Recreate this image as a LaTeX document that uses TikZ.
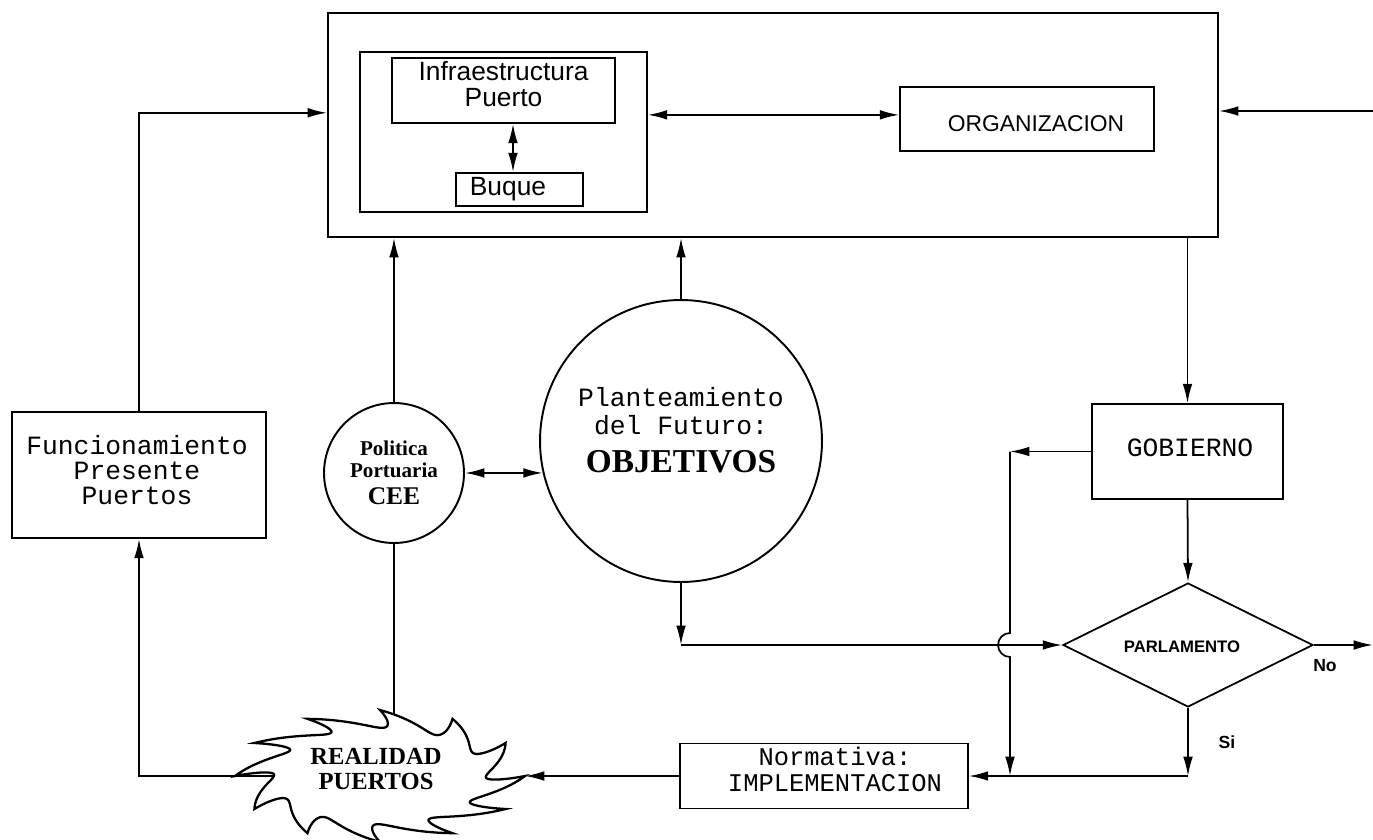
\documentclass[tikz,border=0pt]{standalone}
\usepackage{fontspec}
\setmainfont{Liberation Serif}
\newfontfamily\cadmono{Liberation Mono}
\newfontfamily\cadsans{Liberation Sans}
\usetikzlibrary{arrows.meta,shapes.geometric,calc}
\begin{document}
\begin{tikzpicture}[x=0.02cm,y=-0.02cm,line width=1pt,
  box/.style={draw,rectangle,inner sep=0pt,line width=1.2pt},
  circ/.style={draw,circle,inner sep=0pt,line width=1.1pt},
  tipa/.tip={Latex[length=11pt,width=5.5pt]},
  arr/.style={-tipa},
  darr/.style={tipa-tipa},
  mono/.style={font=\cadmono\fontsize{15}{14.2}\selectfont,align=center},
  sans/.style={font=\cadsans\fontsize{15}{14.8}\selectfont,align=center},
  boldsans/.style={font=\cadsans\bfseries\fontsize{9.5}{11}\selectfont},
  heavy/.style={font=\bfseries\fontsize{14}{14.2}\selectfont,align=center}]
\useasboundingbox (0,0) rectangle (1373,839);
\fill[white] (0,0) rectangle (1373,839);

% ---- boxes
\node[box,minimum width=17.8cm,minimum height=4.48cm] (big) at (773,125) {};
\node[box,line width=1pt,minimum width=5.74cm,minimum height=3.2cm] (inner) at (503.5,132) {};
\node[box,line width=1pt,minimum width=4.46cm,minimum height=1.3cm] (infra) at (503.5,90.5) {};
\node[sans] (infrat) at (503.5,84) {Infraestructura\\Puerto};
\node[box,line width=1pt,minimum width=2.54cm,minimum height=0.66cm] (buque) at (519.5,189.5) {};
\node[sans] (buquet) at (508,189) {Buque};
\node[box,line width=1pt,minimum width=5.08cm,minimum height=1.28cm] (org) at (1027,119) {};
\node[font=\cadsans\fontsize{13}{13}\selectfont] (orgt) at (1036,124) {ORGANIZACION};

\node[box,line width=1pt,minimum width=3.82cm,minimum height=1.9cm] (gob) at (1187.5,451.5) {};
\node[mono] (gobt) at (1190,448) {GOBIERNO};

\node[draw,diamond,inner sep=0pt,line width=1pt,minimum width=5cm,minimum height=2.48cm] (parl) at (1188,645) {};
\node[boldsans] (parlt) at (1182,647) {PARLAMENTO};
\node[font=\cadsans\bfseries\fontsize{10}{11}\selectfont] (no) at (1325,666) {No};
\node[font=\cadsans\bfseries\fontsize{10}{11}\selectfont] (si) at (1227,742) {Si};

\node[box,line width=1pt,minimum width=5.76cm,minimum height=1.3cm] (norm) at (824,776) {};
\node[font=\cadmono\fontsize{14.5}{15}\selectfont,inner sep=0pt] (normt1) at (835,756) {Normativa:};
\node[font=\cadmono\fontsize{14.5}{15}\selectfont,inner sep=0pt] (normt2) at (835,783) {IMPLEMENTACION};

\node[box,line width=1pt,minimum width=5.08cm,minimum height=2.52cm] (func) at (139,475) {};
\node[mono] (funct) at (137,470) {Funcionamiento\\Presente\\Puertos};

% ---- circles
\node[circ,minimum size=2.8cm] (pol) at (394,473) {};
\node[font=\bfseries\fontsize{12}{12}\selectfont,inner sep=0pt] (polt1) at (394,448) {Politica};
\node[font=\bfseries\fontsize{12}{12}\selectfont,inner sep=0pt] (polt2) at (394,470) {Portuaria};
\node[font=\bfseries\fontsize{14.5}{14.5}\selectfont,inner sep=0pt] (polt3) at (394,496) {CEE};
\node[circ,minimum size=5.64cm] (obj) at (681,441) {};
\node[font=\cadmono\fontsize{15}{16}\selectfont] (objt1) at (681,397) {Planteamiento};
\node[font=\cadmono\fontsize{15}{16}\selectfont] (objt2) at (681,425) {del Futuro:};
\node[font=\bfseries\fontsize{19}{19}\selectfont] (objt3) at (681,462) {OBJETIVOS};

% ---- helper coordinates
\coordinate (ax) at (513,0);
\coordinate (jx) at (1010,0);
\coordinate (cl) at (380,776);
\coordinate (cloudE) at (525,776);
\coordinate (rtop) at (1373,111);
\coordinate (noend) at (1373,645);
\coordinate (bigin) at ($(big.north west)!0.446!(big.south west)$);
\coordinate (innr) at ($(inner.north east)!0.394!(inner.south east)$);

% ---- connectors
\draw[darr] (infra.south -| ax) -- (buque.north -| ax);
\draw[darr] (innr) -- (innr -| org.west);
\draw[arr] (rtop) -- (rtop -| big.east);
\draw[arr] (gob.north |- big.south) -- (gob.north);
\draw[arr] (gob.south) -- (parl.north);
\draw[arr] (parl.east) -- (noend);
\draw[arr] (gob.west) -- (gob.west -| jx);
\draw[arr] (gob.west -| jx) -- ($(parl.west -| jx)+(0,-12)$)
   arc[start angle=90,end angle=270,radius=0.24cm] -- (norm.east -| jx);
\draw[arr] (obj.south) -- (obj.south |- parl.west);
\draw[arr] (obj.south |- parl.west) -- (parl.west);
\draw[arr] (parl.south) -- (parl.south |- norm.east);
\draw[arr] (parl.south |- norm.east) -- (norm.east);
\draw[arr] (norm.west) -- (cloudE);
\draw[arr] (pol.north) -- (pol.north |- big.south);
\draw[arr] (obj.north) -- (obj.north |- big.south);
\draw[darr] (pol.east) -- (obj.193);
\draw[arr] (func.north) -- (func.north |- bigin) -- (bigin);
\draw[arr] (cl) -- (func.south |- cl) -- (func.south);
\draw (pol.south) -- (pol.south |- cl);

% ---- cloud
\filldraw[fill=white,draw=black,line width=1.3pt]
  plot[variable=\t,domain=0:360,samples=541]
  ({380+145*(1-0.27*abs(sin(6*\t)))*cos(\t+16*abs(sin(6*\t)))},
   {776+66*(1-0.27*abs(sin(6*\t)))*sin(\t+16*abs(sin(6*\t)))}) -- cycle;
\node[heavy] (realt) at (376,769) {REALIDAD\\PUERTOS};
\end{tikzpicture}
\end{document}
